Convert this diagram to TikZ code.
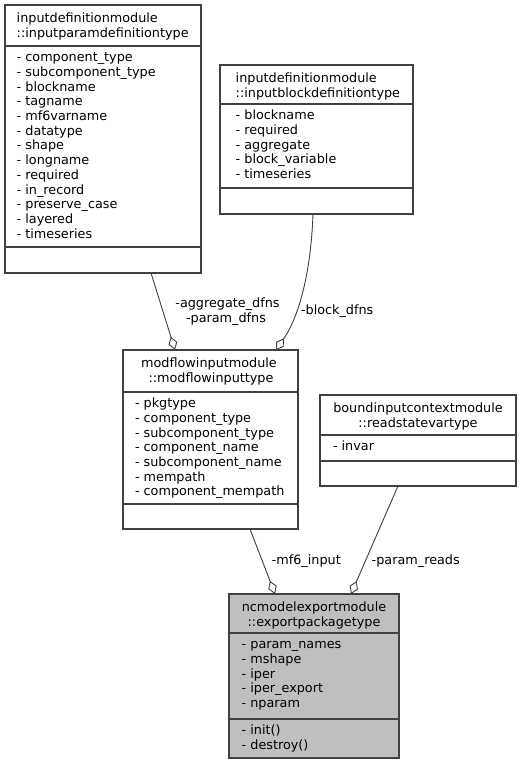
\documentclass[tikz,border=0pt]{standalone}
\usepackage{fontspec}
\setmainfont{DejaVu Sans}
\usetikzlibrary{arrows.meta}
\definecolor{edgec}{HTML}{404040}
\definecolor{hilite}{HTML}{BFBFBF}
\tikzset{
  classbox/.style={draw=edgec, line width=1.2pt, inner sep=0pt, outer sep=0pt, anchor=north west},
  sepline/.style={draw=edgec, line width=1.2pt},
  txt/.style={inner sep=0pt, outer sep=0pt, anchor=base west, font=\fontsize{12.8}{14.7}\selectfont},
  ctxt/.style={inner sep=0pt, outer sep=0pt, anchor=base, font=\fontsize{12.8}{14.7}\selectfont},
  assoc/.style={draw=edgec, line width=0.9pt, -{Diamond[open, fill=white, length=14pt, width=9pt, line width=0.9pt]}}
}
\begin{document}
\begin{tikzpicture}[x=1pt, y=-1pt]
\useasboundingbox (0,0) rectangle (521,764);
\fill[white] (0,0) rectangle (521,764);

% Box 1: inputparamdefinitiontype
\node[classbox, minimum width=196pt, minimum height=268pt] (b1) at (5,5) {};
\draw[sepline] (5,46) -- (201,46);
\draw[sepline] (5,247) -- (201,247);
\node[txt] (b1t1) at (16.7,22.5) {inputdefinitionmodule};
\node[txt] (b1t2) at (16.7,37.3) {::inputparamdefinitiontype};
\foreach \t [count=\i from 0] in {component\_type, subcomponent\_type, blockname, tagname, mf6varname, datatype, shape, longname, required, in\_record, preserve\_case, layered, timeseries}{
  \node[txt] (b1a\i) at (16.7, 61.7+\i*14.7) {- \t};
}

% Box 2: inputblockdefinitiontype
\node[classbox, minimum width=193pt, minimum height=149pt] (b2) at (220,65) {};
\draw[sepline] (220,104) -- (413,104);
\draw[sepline] (220,188) -- (413,188);
\node[txt] (b2t1) at (235.7,82.5) {inputdefinitionmodule};
\node[txt] (b2t2) at (235.7,97.3) {::inputblockdefinitiontype};
\foreach \t [count=\i from 0] in {blockname, required, aggregate, block\_variable, timeseries}{
  \node[txt] (b2a\i) at (235.7, 119.7+\i*14.7) {- \t};
}

% Box 3: modflowinputtype
\node[classbox, minimum width=175pt, minimum height=179pt] (b3) at (123,350) {};
\draw[sepline] (123,392) -- (298,392);
\draw[sepline] (123,504) -- (298,504);
\node[ctxt] (b3t1) at (209,367.5) {modflowinputmodule};
\node[ctxt] (b3t2) at (211,382.3) {::modflowinputtype};
\foreach \t [count=\i from 0] in {pkgtype, component\_type, subcomponent\_type, component\_name, subcomponent\_name, mempath, component\_mempath}{
  \node[txt] (b3a\i) at (135, 407.7+\i*14.7) {- \t};
}

% Box 4: readstatevartype
\node[classbox, minimum width=196pt, minimum height=91pt] (b4) at (320,395) {};
\draw[sepline] (320,435) -- (516,435);
\draw[sepline] (320,461) -- (516,461);
\node[ctxt] (b4t1) at (418,412.5) {boundinputcontextmodule};
\node[ctxt] (b4t2) at (418,427.3) {::readstatevartype};
\node[txt] (b4a0) at (333,450.7) {- invar};

% Box 5: exportpackagetype (highlighted)
\node[classbox, fill=hilite, minimum width=170pt, minimum height=164pt] (b5) at (229,594) {};
\draw[sepline] (229,633) -- (399,633);
\draw[sepline] (229,719) -- (399,719);
\node[ctxt] (b5t1) at (314,611.5) {ncmodelexportmodule};
\node[ctxt] (b5t2) at (314,626.3) {::exportpackagetype};
\foreach \t [count=\i from 0] in {param\_names, mshape, iper, iper\_export, nparam}{
  \node[txt] (b5a\i) at (241.7, 648.7+\i*14.7) {- \t};
}
\node[txt] (b5m0) at (241.7,734.7) {- init()};
\node[txt] (b5m1) at (241.7,749.4) {- destroy()};

% Edge endpoints
\coordinate (e1s) at (151,273);
\coordinate (e1t) at (175,350);
\coordinate (e2s) at (313,214);
\coordinate (e2t) at (276,350);
\coordinate (e3s) at (250,529);
\coordinate (e3t) at (275,594);
\coordinate (e4s) at (398,486);
\coordinate (e4t) at (351,594);

\draw[assoc] (e1s) -- (e1t);
\draw[assoc] (e2s) .. controls (311,270) and (300,315) .. (e2t);
\draw[assoc] (e3s) -- (e3t);
\draw[assoc] (e4s) -- (e4t);

% Edge labels
\node[ctxt] (l1a) at (227.5,307) {-aggregate\_dfns};
\node[ctxt] (l1b) at (226,322) {-param\_dfns};
\node[txt] (l2) at (301,314) {-block\_dfns};
\node[txt] (l3) at (271.7,564) {-mf6\_input};
\node[txt] (l4) at (371.7,564) {-param\_reads};
\end{tikzpicture}
\end{document}
